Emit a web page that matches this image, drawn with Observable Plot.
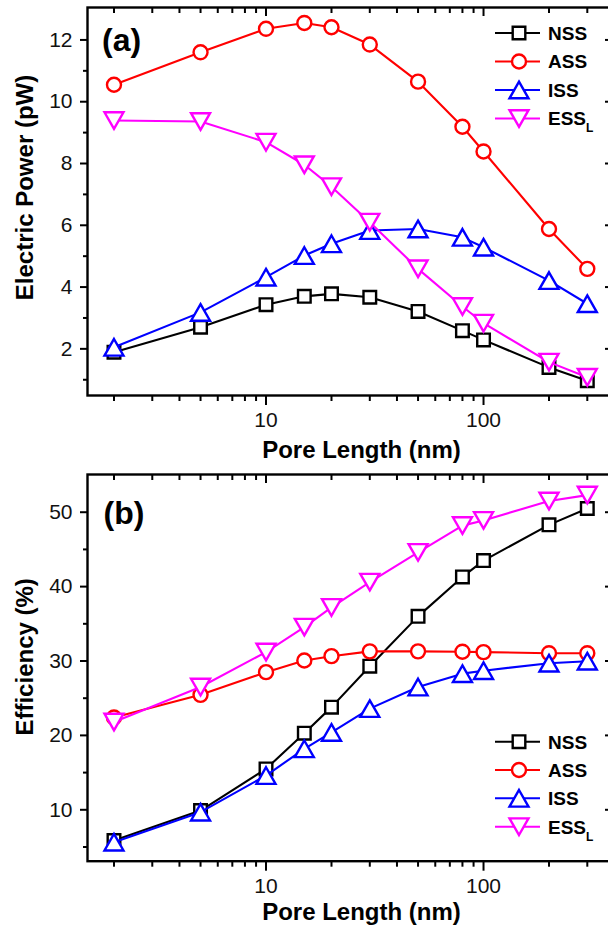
<!DOCTYPE html>
<html><head><meta charset="utf-8">
<script src="https://cdn.jsdelivr.net/npm/d3@7"></script>
<script src="https://cdn.jsdelivr.net/npm/@observablehq/plot@0.6"></script>
<style>
html,body{margin:0;padding:0;background:#fff;overflow:hidden;}
#wrap{width:608px;height:933px;overflow:hidden;position:relative;background:#fff;}
#wrap svg{display:block;}
</style></head><body><div id="wrap"></div>
<script>
// ---- data ----
const poreLength = [2, 5, 10, 15, 20, 30, 50, 80, 100, 200, 300];
const seriesNames = ["NSS", "ASS", "ISS", "ESS"];
const seriesSubscripts = ["", "", "", "L"];
const seriesColors = ["#000000", "#ff0000", "#0000ff", "#ff00ff"];

const powerNSS = [1.89, 2.70, 3.43, 3.70, 3.78, 3.67, 3.21, 2.59, 2.29, 1.40, 0.97];
const powerASS = [10.55, 11.60, 12.36, 12.55, 12.41, 11.85, 10.65, 9.19, 8.39, 5.88, 4.59];
const powerISS = [2.05, 3.18, 4.32, 5.02, 5.40, 5.83, 5.88, 5.61, 5.29, 4.21, 3.46];
const powerESS = [9.39, 9.36, 8.69, 7.96, 7.25, 6.10, 4.59, 3.37, 2.83, 1.57, 1.08];

const effNSS = [5.87, 9.9, 15.5, 20.3, 23.8, 29.3, 36.0, 41.3, 43.5, 48.3, 50.5];
const effASS = [22.4, 25.45, 28.5, 30.07, 30.65, 31.3, 31.3, 31.25, 31.2, 31.05, 31.05];
const effISS = [5.65, 9.68, 14.6, 18.2, 20.4, 23.6, 26.5, 28.3, 28.7, 29.7, 29.97];
const effESS = [21.8, 26.5, 31.2, 34.55, 37.2, 40.6, 44.6, 48.2, 48.9, 51.5, 52.3];

const xMajorTicks = [10, 100];
const xMinorTicks = [2, 3, 4, 5, 6, 7, 8, 9, 20, 30, 40, 50, 60, 70, 80, 90, 200, 300];
const powerMajorTicks = [2, 4, 6, 8, 10, 12];
const powerMinorTicks = [1, 3, 5, 7, 9, 11];
const effMajorTicks = [10, 20, 30, 40, 50];
const effMinorTicks = [5, 15, 25, 35, 45];

const xTitle = "Pore Length (nm)";
const powerTitle = "Electric Power (pW)";
const effTitle = "Efficiency (%)";

// ---- symbols ----
function makeSymbol(kind) {
  return {
    draw(ctx, size) {
      const k = Math.sqrt(size / Math.PI) / 7;
      if (kind === "square") {
        const h = 6.3 * k;
        ctx.moveTo(-h, -h); ctx.lineTo(h, -h); ctx.lineTo(h, h); ctx.lineTo(-h, h); ctx.closePath();
      } else if (kind === "circle") {
        const c = 7 * k;
        ctx.moveTo(c, 0); ctx.arc(0, 0, c, 0, 2 * Math.PI);
      } else if (kind === "up") {
        const w = 9.5 * k, h = 8.3 * k;
        ctx.moveTo(0, -h); ctx.lineTo(w, h); ctx.lineTo(-w, h); ctx.closePath();
      } else {
        const w = 9.5 * k, h = 8.3 * k;
        ctx.moveTo(0, h); ctx.lineTo(w, -h); ctx.lineTo(-w, -h); ctx.closePath();
      }
    }
  };
}
const symbols = [makeSymbol("square"), makeSymbol("circle"), makeSymbol("up"), makeSymbol("down")];

const FONT = "'Liberation Sans', Arial, Helvetica, sans-serif";

function panel(o) {
  const W = 612, mL = 87, mR = 1;
  const plotH = o.height - o.mt - o.mb;
  const plotW = W - mL - mR;
  const marks = [];
  seriesNames.forEach((name, i) => {
    const data = poreLength.map((x, j) => ({x, y: o.values[i][j]}));
    marks.push(Plot.line(data, {x: "x", y: "y", stroke: seriesColors[i], strokeWidth: 2.1}));
    marks.push(Plot.dot(data, {x: "x", y: "y", r: 7, symbol: symbols[i], stroke: seriesColors[i], fill: "#ffffff", strokeWidth: 2.4}));
  });
  // ticks: bottom outward, top inward
  marks.push(Plot.tickX(xMajorTicks, {x: d => d, insetTop: plotH, insetBottom: -10, strokeWidth: 2, stroke: "#000"}));
  marks.push(Plot.tickX(xMinorTicks, {x: d => d, insetTop: plotH, insetBottom: -6, strokeWidth: 2, stroke: "#000"}));
  marks.push(Plot.tickX(xMajorTicks, {x: d => d, insetBottom: plotH - 9, strokeWidth: 2, stroke: "#000"}));
  marks.push(Plot.tickX(xMinorTicks, {x: d => d, insetBottom: plotH - 6, strokeWidth: 2, stroke: "#000"}));
  // left outward, right inward
  marks.push(Plot.tickY(o.yMajor, {y: d => d, insetLeft: -7, insetRight: plotW, strokeWidth: 2, stroke: "#000"}));
  marks.push(Plot.tickY(o.yMinor, {y: d => d, insetLeft: -4, insetRight: plotW, strokeWidth: 2, stroke: "#000"}));
  marks.push(Plot.tickY(o.yMajor, {y: d => d, insetLeft: plotW - 6, insetRight: 0, strokeWidth: 2, stroke: "#000"}));
  marks.push(Plot.frame({stroke: "#000", strokeWidth: 2.4}));
  // tick labels
  marks.push(Plot.text(xMajorTicks, {x: d => d, frameAnchor: "bottom", lineAnchor: "top", dy: 17, text: d => String(d), fontSize: 21, fill: "#111"}));
  marks.push(Plot.text(o.yMajor, {y: d => d, frameAnchor: "left", textAnchor: "end", dx: -15, text: d => String(d), fontSize: 21, fill: "#111"}));
  // titles
  marks.push(Plot.text([xTitle], {frameAnchor: "bottom", textAnchor: "middle", lineAnchor: "top", dx: 12, dy: o.xTitleDy, text: d => d, fontSize: 24, fontWeight: "bold", fill: "#000"}));
  marks.push(Plot.text([o.yTitle], {frameAnchor: "left", textAnchor: "middle", lineAnchor: "middle", rotate: -90, dx: -62, dy: o.yTitleDy, text: d => d, fontSize: 24, fontWeight: "bold", fill: "#000"}));
  marks.push(Plot.text([o.tag], {frameAnchor: "top-left", textAnchor: "start", lineAnchor: "top", dx: o.tagDx, dy: o.tagDy, text: d => d, fontSize: 32, fontWeight: "bold", fill: "#000"}));

  const svg = Plot.plot({
    width: W, height: o.height,
    marginLeft: mL, marginRight: mR, marginTop: o.mt, marginBottom: o.mb,
    x: {type: "log", domain: [1.511, 387.6], axis: null},
    y: {domain: o.yDomain, axis: null},
    style: {fontFamily: FONT, fontSize: "20px", color: "#000", background: "#fff", maxWidth: "none"},
    marks
  });
  // legend
  const g = d3.select(svg).append("g").attr("font-family", FONT).attr("text-anchor", "start");
  seriesNames.forEach((name, i) => {
    const y = o.legendY[i];
    g.append("line").attr("x1", 495).attr("x2", 540).attr("y1", y).attr("y2", y)
      .attr("stroke", seriesColors[i]).attr("stroke-width", 2.1);
    const p = d3.path(); symbols[i].draw(p, Math.PI * 49);
    g.append("path").attr("d", p.toString()).attr("transform", `translate(519,${y})`)
      .attr("fill", "#fff").attr("stroke", seriesColors[i]).attr("stroke-width", 2.4);
    const t = g.append("text").attr("x", 548).attr("y", y).attr("dy", "0.36em")
      .attr("text-anchor", "start")
      .attr("font-size", 19).attr("font-weight", "bold").attr("fill", "#000").text(name);
    if (seriesSubscripts[i]) t.append("tspan").attr("font-size", 12).attr("dy", 7).text(seriesSubscripts[i]);
  });
  return svg;
}

const wrap = document.getElementById("wrap");
wrap.appendChild(panel({
  values: [powerNSS, powerASS, powerISS, powerESS],
  height: 466, mt: 7, mb: 71,
  yDomain: [0.49, 13.05], yMajor: powerMajorTicks, yMinor: powerMinorTicks,
  yTitle: powerTitle, yTitleDy: -14, xTitleDy: 45,
  tag: "(a)", tagDx: 14.5, tagDy: 20.5,
  legendY: [33, 61.5, 90, 118.5]
}));
wrap.appendChild(panel({
  values: [effNSS, effASS, effISS, effESS],
  height: 467, mt: 8, mb: 72.3,
  yDomain: [3.09, 55.07], yMajor: effMajorTicks, yMinor: effMinorTicks,
  yTitle: effTitle, yTitleDy: -11, xTitleDy: 42,
  tag: "(b)", tagDx: 16, tagDy: 26.5,
  legendY: [275.7, 304, 332.3, 360.7]
}));
</script>
</body></html>
